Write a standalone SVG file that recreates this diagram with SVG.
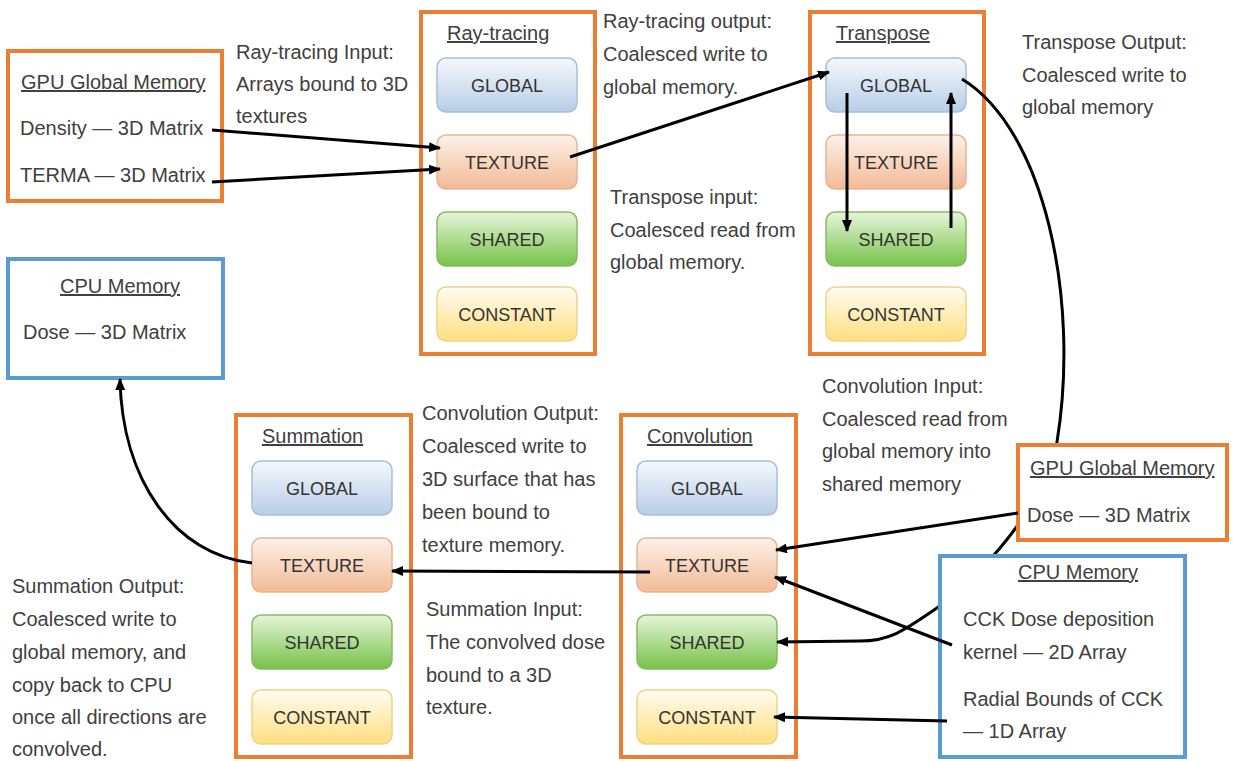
<svg xmlns="http://www.w3.org/2000/svg" width="1233" height="761" viewBox="0 0 1233 761">
<style>
text{font-family:"Liberation Sans",Arial,sans-serif;font-size:20px;fill:#404040}
.title{text-decoration:underline}
.lbl{font-size:18px;text-anchor:middle;fill:#333}
.stage{fill:#fff;stroke:#ed7d31;stroke-width:4}
.memo{fill:#fff;stroke:#ed7d31;stroke-width:4}
.memb{fill:#fff;stroke:#5b9bd5;stroke-width:4}
.g{fill:url(#gGlobal);stroke:#a7bedb;stroke-width:1.5}
.t{fill:url(#gTexture);stroke:#e6b594;stroke-width:1.5}
.s{fill:url(#gShared);stroke:#86bb62;stroke-width:1.5}
.c{fill:url(#gConst);stroke:#ecd48a;stroke-width:1.5}
.conn{fill:none;stroke:#000;stroke-width:3}
</style>
<defs>
<linearGradient id="gGlobal" x1="0" y1="0" x2="0" y2="1"><stop offset="0" stop-color="#f5f8fc"/><stop offset="1" stop-color="#b8cde8"/></linearGradient>
<linearGradient id="gTexture" x1="0" y1="0" x2="0" y2="1"><stop offset="0" stop-color="#fdf1e9"/><stop offset="1" stop-color="#f3ba96"/></linearGradient>
<linearGradient id="gShared" x1="0" y1="0" x2="0" y2="1"><stop offset="0" stop-color="#e6f5d9"/><stop offset="1" stop-color="#76c248"/></linearGradient>
<linearGradient id="gConst" x1="0" y1="0" x2="0" y2="1"><stop offset="0" stop-color="#fffcf2"/><stop offset="1" stop-color="#ffdf7e"/></linearGradient>
<marker id="arrow" viewBox="0 0 12 10" refX="11" refY="5" markerWidth="12" markerHeight="10" markerUnits="userSpaceOnUse" orient="auto"><path d="M0,0 L12,5 L0,10 Z" fill="#000"/></marker>
<mask id="behind" maskUnits="userSpaceOnUse" x="0" y="0" width="1233" height="761">
<rect x="0" y="0" width="1233" height="761" fill="#fff"/>
<rect x="1016" y="443" width="214" height="100" fill="#000"/>
<rect x="938" y="554" width="249" height="205" fill="#000"/>
</mask>
</defs>
<rect width="1233" height="761" fill="#fff"/>

<g id="gpu-global-top">
<rect class="memo" x="8" y="51" width="214" height="150"/>
<text class="title" x="21" y="89">GPU Global Memory</text>
<text x="20" y="135">Density — 3D Matrix</text>
<text x="20" y="182">TERMA — 3D Matrix</text>
</g>

<g id="cpu-memory-top">
<rect class="memb" x="8" y="259" width="215" height="119"/>
<text class="title" x="120" y="293" text-anchor="middle">CPU Memory</text>
<text x="23" y="339">Dose — 3D Matrix</text>
</g>

<g id="raytracing">
<rect class="stage" x="421" y="12" width="174" height="342"/>
<text class="title" x="447" y="40">Ray-tracing</text>
<rect class="g" x="437" y="58" width="140" height="54" rx="9"/><text class="lbl" x="507" y="92">GLOBAL</text>
<rect class="t" x="437" y="135" width="140" height="54" rx="9"/><text class="lbl" x="507" y="169">TEXTURE</text>
<rect class="s" x="437" y="212" width="140" height="54" rx="9"/><text class="lbl" x="507" y="246">SHARED</text>
<rect class="c" x="437" y="287" width="140" height="54" rx="9"/><text class="lbl" x="507" y="321">CONSTANT</text>
</g>

<g id="transpose">
<rect class="stage" x="810" y="12" width="174" height="342"/>
<text class="title" x="836" y="40">Transpose</text>
<rect class="g" x="826" y="58" width="140" height="54" rx="9"/><text class="lbl" x="896" y="92">GLOBAL</text>
<rect class="t" x="826" y="135" width="140" height="54" rx="9"/><text class="lbl" x="896" y="169">TEXTURE</text>
<rect class="s" x="826" y="212" width="140" height="54" rx="9"/><text class="lbl" x="896" y="246">SHARED</text>
<rect class="c" x="826" y="287" width="140" height="54" rx="9"/><text class="lbl" x="896" y="321">CONSTANT</text>
</g>

<g id="summation">
<rect class="stage" x="236" y="415" width="175" height="342"/>
<text class="title" x="262" y="443">Summation</text>
<rect class="g" x="252" y="461" width="140" height="54" rx="9"/><text class="lbl" x="322" y="495">GLOBAL</text>
<rect class="t" x="252" y="538" width="140" height="54" rx="9"/><text class="lbl" x="322" y="572">TEXTURE</text>
<rect class="s" x="252" y="615" width="140" height="54" rx="9"/><text class="lbl" x="322" y="649">SHARED</text>
<rect class="c" x="252" y="690" width="140" height="54" rx="9"/><text class="lbl" x="322" y="724">CONSTANT</text>
</g>

<g id="convolution">
<rect class="stage" x="621" y="415" width="175" height="342"/>
<text class="title" x="647" y="443">Convolution</text>
<rect class="g" x="637" y="461" width="140" height="54" rx="9"/><text class="lbl" x="707" y="495">GLOBAL</text>
<rect class="t" x="637" y="538" width="140" height="54" rx="9"/><text class="lbl" x="707" y="572">TEXTURE</text>
<rect class="s" x="637" y="615" width="140" height="54" rx="9"/><text class="lbl" x="707" y="649">SHARED</text>
<rect class="c" x="637" y="690" width="140" height="54" rx="9"/><text class="lbl" x="707" y="724">CONSTANT</text>
</g>

<g id="gpu-global-bottom">
<rect class="memo" x="1018" y="445" width="209" height="95"/>
<text class="title" x="1030" y="475">GPU Global Memory</text>
<text x="1027" y="522">Dose — 3D Matrix</text>
</g>

<g id="cpu-memory-bottom">
<rect class="memb" x="940" y="556" width="245" height="201"/>
<text class="title" x="1078" y="579" text-anchor="middle">CPU Memory</text>
<text x="963" y="626">CCK Dose deposition</text>
<text x="963" y="659">kernel — 2D Array</text>
<text x="963" y="706">Radial Bounds of CCK</text>
<text x="963" y="738">— 1D Array</text>
</g>

<g id="labels">
<text x="236" y="59">Ray-tracing Input:</text>
<text x="236" y="91">Arrays bound to 3D</text>
<text x="236" y="123">textures</text>
<text x="603" y="28">Ray-tracing output:</text>
<text x="603" y="61">Coalesced write to</text>
<text x="603" y="94">global memory.</text>
<text x="610" y="204">Transpose input:</text>
<text x="610" y="237">Coalesced read from</text>
<text x="610" y="269">global memory.</text>
<text x="1022" y="49">Transpose Output:</text>
<text x="1022" y="82">Coalesced write to</text>
<text x="1022" y="114">global memory</text>
<text x="822" y="393">Convolution Input:</text>
<text x="822" y="426">Coalesced read from</text>
<text x="822" y="458">global memory into</text>
<text x="822" y="491">shared memory</text>
<text x="422" y="420">Convolution Output:</text>
<text x="422" y="453">Coalesced write to</text>
<text x="422" y="486">3D surface that has</text>
<text x="422" y="519">been bound to</text>
<text x="422" y="552">texture memory.</text>
<text x="426" y="616">Summation Input:</text>
<text x="426" y="649">The convolved dose</text>
<text x="426" y="682">bound to a 3D</text>
<text x="426" y="714">texture.</text>
<text x="12" y="593">Summation Output:</text>
<text x="12" y="626">Coalesced write to</text>
<text x="12" y="659">global memory, and</text>
<text x="12" y="692">copy back to CPU</text>
<text x="12" y="724">once all directions are</text>
<text x="12" y="756">convolved.</text>
</g>

<g id="connectors">
<path class="conn" d="M212,130 L440,148" marker-end="url(#arrow)"/>
<path class="conn" d="M212,182 L440,169" marker-end="url(#arrow)"/>
<path class="conn" d="M570,157 L829,72" marker-end="url(#arrow)"/>
<path class="conn" d="M847,93 L847,231" marker-end="url(#arrow)"/>
<path class="conn" d="M951,228 L951,93" marker-end="url(#arrow)"/>
<path class="conn" mask="url(#behind)" d="M962,79 C1045,130 1080,300 1057,442 C1050,490 1000,560 937,608 C905,630 890,641 860,641 L777,642" marker-end="url(#arrow)"/>
<path class="conn" d="M1018,513 L776,550" marker-end="url(#arrow)"/>
<path class="conn" d="M952,645 L775,577" marker-end="url(#arrow)"/>
<path class="conn" d="M947,721 L774,717" marker-end="url(#arrow)"/>
<path class="conn" d="M650,572 L392,571" marker-end="url(#arrow)"/>
<path class="conn" d="M252,563 C175,555 122,480 120,379" marker-end="url(#arrow)"/>
</g>
</svg>
